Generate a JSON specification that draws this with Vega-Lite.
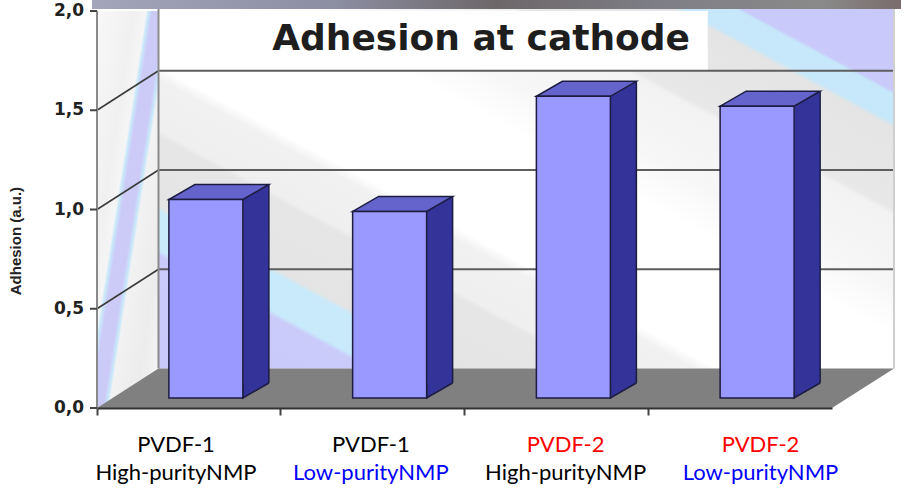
{
  "$schema": "https://vega.github.io/schema/vega-lite/v6.json",
  "width": 735,
  "height": 397,
  "autosize": {"type": "none"},
  "padding": {"left": 97, "top": 11, "right": 77, "bottom": 86},
  "background": "white",
  "data": {
    "values": [
      {"sample": "PVDF-1 / High-purityNMP", "polymer": "PVDF-1", "solvent": "High-purityNMP", "adhesion": 1.0},
      {"sample": "PVDF-1 / Low-purityNMP", "polymer": "PVDF-1", "solvent": "Low-purityNMP", "adhesion": 0.94},
      {"sample": "PVDF-2 / High-purityNMP", "polymer": "PVDF-2", "solvent": "High-purityNMP", "adhesion": 1.52},
      {"sample": "PVDF-2 / Low-purityNMP", "polymer": "PVDF-2", "solvent": "Low-purityNMP", "adhesion": 1.47}
    ]
  },
  "resolve": {"scale": {"x": "independent"}, "axis": {"x": "independent"}},
  "layer": [
    {
      "data": {"values": [{}]},
      "layer": [
        {
          "mark": {
            "type": "rect",
            "xOffset": 61.5, "x2Offset": 61.5, "yOffset": -39.5, "y2Offset": -39.5,
            "fill": {
              "gradient": "linear", "x1": 1, "y1": 0, "x2": 0, "y2": 1,
              "stops": [
                {"offset": 0, "color": "#c8c8fa"},
                {"offset": 0.15, "color": "#c9c9fa"},
                {"offset": 0.155, "color": "#c6e8fa"},
                {"offset": 0.19, "color": "#c6e8fa"},
                {"offset": 0.197, "color": "#e4e4e4"},
                {"offset": 0.3, "color": "#e8e8e8"},
                {"offset": 0.307, "color": "#f2f2f2"},
                {"offset": 0.4, "color": "#f7f7f7"},
                {"offset": 0.46, "color": "#ffffff"},
                {"offset": 0.62, "color": "#ffffff"},
                {"offset": 0.635, "color": "#f1f1f1"},
                {"offset": 0.7, "color": "#efefef"},
                {"offset": 0.707, "color": "#e6e6e6"},
                {"offset": 0.795, "color": "#e4e4e4"},
                {"offset": 0.802, "color": "#c8eafb"},
                {"offset": 0.85, "color": "#c8eafb"},
                {"offset": 0.857, "color": "#cbcbfa"},
                {"offset": 1, "color": "#c8c8fa"}
              ]
            }
          },
          "encoding": {
            "x": {"datum": 0, "type": "quantitative", "scale": {"domain": [0, 1], "nice": false, "zero": false}, "axis": null},
            "x2": {"datum": 1},
            "y": {"datum": 2, "type": "quantitative", "scale": {"domain": [0, 2], "nice": false}, "axis": null},
            "y2": {"datum": 0}
          }
        },
        {
          "mark": {
            "type": "rect",
            "x2Offset": 61.5,
            "fill": {
              "gradient": "linear", "x1": 0, "y1": 0, "x2": 1, "y2": 1,
              "stops": [
                {"offset": 0, "color": "#f8f8f8"},
                {"offset": 0.3, "color": "#f0f0f0"},
                {"offset": 0.4, "color": "#f5f5f5"},
                {"offset": 0.42, "color": "#c8e8fa"},
                {"offset": 0.45, "color": "#cccbf8"},
                {"offset": 0.55, "color": "#cccbf8"},
                {"offset": 0.58, "color": "#c8e8fa"},
                {"offset": 0.6, "color": "#f2f2f2"},
                {"offset": 0.8, "color": "#ececec"},
                {"offset": 1, "color": "#f6f6f6"}
              ]
            }
          },
          "encoding": {
            "x": {"datum": 0, "type": "quantitative", "axis": null},
            "x2": {"datum": 0},
            "y": {"datum": 2, "type": "quantitative", "axis": null},
            "y2": {"datum": 0}
          }
        },
        {
          "mark": {"type": "rect", "fill": "white"},
          "encoding": {
            "x": {"datum": 0.2, "type": "quantitative", "axis": null},
            "x2": {"datum": 0.831},
            "y": {"datum": 2, "type": "quantitative", "axis": null},
            "y2": {"datum": 1.7}
          }
        },
        {
          "data": {"values": [{"v": 0.5}, {"v": 1}, {"v": 1.5}]},
          "mark": {"type": "rule", "color": "#5e5e5e", "strokeWidth": 2, "xOffset": 61.5, "x2Offset": 61.5, "yOffset": -39.5},
          "encoding": {
            "x": {"datum": 0, "type": "quantitative", "axis": null},
            "x2": {"datum": 1},
            "y": {"field": "v", "type": "quantitative", "axis": null}
          }
        },
        {
          "data": {"values": [{"v": 0.5}, {"v": 1}, {"v": 1.5}]},
          "mark": {"type": "rule", "color": "#3a3a3a", "strokeWidth": 1.5, "x2Offset": 61.5, "y2Offset": -39.5},
          "encoding": {
            "x": {"datum": 0, "type": "quantitative", "axis": null},
            "x2": {"datum": 0},
            "y": {"field": "v", "type": "quantitative", "axis": null},
            "y2": {"field": "v"}
          }
        },
        {
          "mark": {"type": "rule", "color": "#8a8a8a", "strokeWidth": 2, "xOffset": 61.5, "yOffset": -11, "y2Offset": -39.5},
          "encoding": {
            "x": {"datum": 0, "type": "quantitative", "axis": null},
            "y": {"datum": 2, "type": "quantitative", "axis": null},
            "y2": {"datum": 0}
          }
        },
        {
          "mark": {"type": "rule", "color": "#cfcfcf", "strokeWidth": 2, "xOffset": 62, "yOffset": -11, "y2Offset": -39.5},
          "encoding": {
            "x": {"datum": 1, "type": "quantitative", "axis": null},
            "y": {"datum": 2, "type": "quantitative", "axis": null},
            "y2": {"datum": 0}
          }
        },
        {
          "mark": {
            "type": "rect",
            "xOffset": -5, "x2Offset": 69, "yOffset": -2, "y2Offset": -11,
            "fill": {
              "gradient": "linear", "x1": 0, "y1": 0, "x2": 1, "y2": 0,
              "stops": [
                {"offset": 0, "color": "#a3a5bb"},
                {"offset": 0.3, "color": "#8c8ea2"},
                {"offset": 0.5, "color": "#6d6769"},
                {"offset": 0.7, "color": "#7e7e86"},
                {"offset": 0.9, "color": "#8a8a8a"},
                {"offset": 1, "color": "#7a6c6c"}
              ]
            }
          },
          "encoding": {
            "x": {"datum": 0, "type": "quantitative", "axis": null},
            "x2": {"datum": 1},
            "y": {"datum": 2, "type": "quantitative", "axis": null},
            "y2": {"datum": 2}
          }
        },
        {
          "mark": {
            "type": "point",
            "shape": "M0,0 L61.5,-39.5 L797,-39.5 L735,0 Z",
            "size": 4,
            "filled": true,
            "fill": "#808080",
            "strokeWidth": 0,
            "opacity": 1
          },
          "encoding": {
            "x": {"datum": 0, "type": "quantitative", "axis": null},
            "y": {"datum": 0, "type": "quantitative", "axis": null}
          }
        },
        {
          "mark": {"type": "rule", "color": "#8a8a8a", "strokeWidth": 2},
          "encoding": {
            "x": {"datum": 0, "type": "quantitative", "axis": null},
            "y": {"datum": 2, "type": "quantitative", "axis": null},
            "y2": {"datum": 0}
          }
        },
        {
          "data": {"values": [{"v": 0}, {"v": 0.5}, {"v": 1}, {"v": 1.5}, {"v": 2}]},
          "mark": {"type": "rule", "color": "#444444", "strokeWidth": 2, "xOffset": -7},
          "encoding": {
            "x": {"datum": 0, "type": "quantitative", "axis": null},
            "x2": {"datum": 0},
            "y": {"field": "v", "type": "quantitative", "axis": null}
          }
        },
        {
          "data": {"values": [{"v": 0}, {"v": 0.5}, {"v": 1}, {"v": 1.5}, {"v": 2}]},
          "mark": {
            "type": "text",
            "font": "DejaVu Sans",
            "fontWeight": "bold",
            "fontSize": 17,
            "color": "#222222",
            "align": "right",
            "baseline": "middle",
            "xOffset": -13
          },
          "encoding": {
            "x": {"datum": 0, "type": "quantitative", "axis": null},
            "y": {"field": "v", "type": "quantitative", "axis": null},
            "text": {"field": "v", "type": "quantitative", "format": ".1f"}
          }
        },
        {
          "mark": {
            "type": "text",
            "text": "Adhesion (a.u.)",
            "font": "Liberation Sans",
            "fontWeight": "bold",
            "fontSize": 15,
            "color": "#222222",
            "angle": 270,
            "align": "center",
            "baseline": "alphabetic",
            "xOffset": -76
          },
          "encoding": {
            "x": {"datum": 0, "type": "quantitative", "axis": null},
            "y": {"datum": 0.841, "type": "quantitative", "axis": null}
          }
        },
        {
          "mark": {
            "type": "text",
            "text": "Adhesion at cathode",
            "font": "DejaVu Sans",
            "fontWeight": "bold",
            "fontSize": 36,
            "color": "#1e1e1e",
            "align": "center",
            "baseline": "alphabetic"
          },
          "encoding": {
            "x": {"datum": 0.5225, "type": "quantitative", "axis": null},
            "y": {"datum": 1.8035, "type": "quantitative", "axis": null}
          }
        }
      ]
    },
    {
      "encoding": {
        "x": {
          "field": "sample",
          "type": "nominal",
          "sort": null,
          "scale": {"paddingInner": 0, "paddingOuter": 0},
          "axis": {
            "orient": "bottom",
            "title": null,
            "labels": false,
            "bandPosition": 0,
            "tickSize": 7,
            "tickColor": "#444444",
            "tickWidth": 2,
            "domainColor": "#333333",
            "domainWidth": 2,
            "zindex": 1
          }
        },
        "y": {
          "field": "adhesion",
          "type": "quantitative",
          "scale": {"domain": [0, 2], "nice": false},
          "axis": null
        }
      },
      "layer": [
        {
          "mark": {"type": "bar", "width": 26, "xOffset": 67, "yOffset": -25, "y2Offset": -25, "fill": "#333399", "strokeWidth": 0},
          "encoding": {"y2": {"datum": 0}}
        },
        {
          "mark": {
            "type": "point",
            "shape": "M0,-15 L0,0 L26,-15",
            "size": 4,
            "filled": true,
            "fill": "#333399",
            "stroke": "#1c1c40",
            "strokeWidth": 1.5,
            "opacity": 1,
            "xOffset": 54,
            "yOffset": -10
          },
          "encoding": {"y": {"datum": 0, "type": "quantitative", "axis": null}}
        },
        {
          "mark": {"type": "rule", "color": "#1c1c40", "strokeWidth": 1.5, "xOffset": 80, "yOffset": -25, "y2Offset": -25},
          "encoding": {"y2": {"datum": 0}}
        },
        {
          "mark": {
            "type": "point",
            "shape": "M0,0 L74,0 L100,-15 L26,-15 Z",
            "size": 4,
            "filled": true,
            "fill": "#6464cc",
            "stroke": "#1c1c40",
            "strokeWidth": 1.5,
            "opacity": 1,
            "xOffset": -20,
            "yOffset": -10
          }
        },
        {
          "mark": {"type": "bar", "width": 74, "xOffset": 17, "yOffset": -10, "y2Offset": -10, "fill": "#9999ff", "stroke": "#1c1c40", "strokeWidth": 1.5},
          "encoding": {"y2": {"datum": 0}}
        }
      ]
    },
    {
      "encoding": {
        "x": {
          "field": "sample",
          "type": "nominal",
          "sort": null,
          "scale": {"type": "point", "range": [79, 663.5], "padding": 0},
          "axis": null
        },
        "y": {"datum": 0, "type": "quantitative", "axis": null}
      },
      "layer": [
        {
          "mark": {"type": "text", "font": "Lato", "fontSize": 22, "baseline": "alphabetic", "dy": 44},
          "encoding": {
            "text": {"field": "polymer"},
            "color": {"condition": {"test": "datum.polymer === 'PVDF-2'", "value": "#ff0000"}, "value": "#000000"}
          }
        },
        {
          "mark": {"type": "text", "font": "Lato", "fontSize": 22, "baseline": "alphabetic", "dy": 72},
          "encoding": {
            "text": {"field": "solvent"},
            "color": {"condition": {"test": "datum.solvent === 'Low-purityNMP'", "value": "#0000ff"}, "value": "#000000"}
          }
        }
      ]
    }
  ],
  "config": {
    "view": {"stroke": null},
    "locale": {
      "number": {"decimal": ",", "thousands": ".", "grouping": [3], "currency": ["", " €"]}
    }
  }
}
